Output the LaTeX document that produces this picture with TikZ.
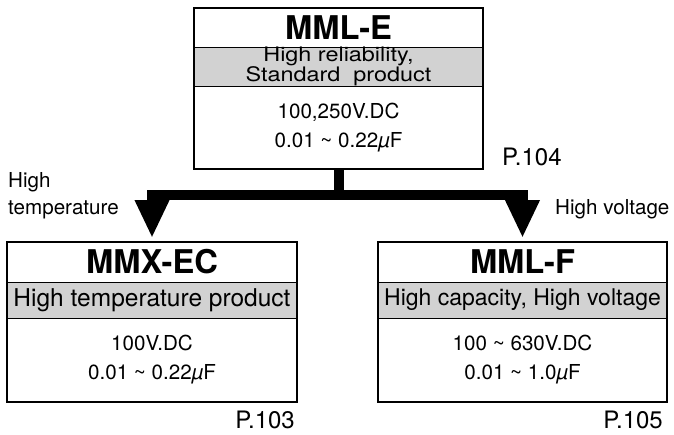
\documentclass[tikz,border=0pt]{standalone}
\usepackage{fontspec}
\setmainfont{TeX Gyre Heros}
\usetikzlibrary{arrows.meta, positioning, fit}
\definecolor{bandgray}{RGB}{210, 210, 210}
\tikzset{
    titlebox/.style={
        rectangle, draw, line width=0.8pt, inner sep=0pt, outer sep=0pt,
        minimum width=289pt, minimum height=39pt,
        font=\fontsize{32.7}{36}\selectfont\bfseries
    },
    bandbox/.style={titlebox, fill=bandgray, minimum height=37pt, align=center,
        font=\fontsize{24.5}{28}\selectfont},
    specbox/.style={titlebox, minimum height=83pt, align=center,
        font=\fontsize{20.6}{29}\selectfont},
    boxframe/.style={rectangle, draw, line width=2pt, inner sep=0pt},
    trunk/.style={line width=10pt},
    branch/.style={line width=10pt, -{Triangle[length=38pt, width=32pt]}, shorten >=4pt},
    sidelabel/.style={font=\fontsize{20.6}{27}\selectfont, inner sep=0pt},
    pagelabel/.style={font=\fontsize{24}{28}\selectfont, inner sep=0pt},
}

\begin{document}
\begin{tikzpicture}[x=1pt, y=-1pt]
    \useasboundingbox (0,0) rectangle (674,434);

    % top series
    \node[titlebox] (e-title) at (338.5, 27.5) {MML-E};
    \node[bandbox, below=0pt of e-title, font=\fontsize{20}{16}\selectfont] (e-band)
        {\scalebox{1.17}[1]{High reliability,}\\\scalebox{1.17}[1]{Standard\ \ product}};
    \node[specbox, below=0pt of e-band] (e-spec)
        {100,250V.DC\\0.01 \textasciitilde{} 0.22\textit{µ}F};
    \node[boxframe, fit=(e-title)(e-spec)] (e-box) {};

    % high temperature series
    \node[titlebox, minimum width=290pt, minimum height=40pt] (ec-title) at (152, 262) {MMX-EC};
    \node[bandbox, minimum width=290pt, minimum height=36pt, below=0pt of ec-title] (ec-band)
        {High temperature product};
    \node[specbox, minimum width=290pt, minimum height=84pt, below=0pt of ec-band] (ec-spec)
        {100V.DC\\0.01 \textasciitilde{} 0.22\textit{µ}F};
    \node[boxframe, fit=(ec-title)(ec-spec)] (ec-box) {};

    % high voltage series
    \node[titlebox, minimum height=40pt] (f-title) at (522.5, 262) {MML-F};
    \node[bandbox, minimum height=36pt, below=0pt of f-title, font=\fontsize{23}{28}\selectfont] (f-band)
        {High capacity, High voltage};
    \node[specbox, minimum height=84pt, below=0pt of f-band] (f-spec)
        {100 \textasciitilde{} 630V.DC\\0.01 \textasciitilde{} 1.0\textit{µ}F};
    \node[boxframe, fit=(f-title)(f-spec)] (f-box) {};

    % connectors
    \coordinate[below=26pt of e-spec.south] (split);
    \draw[trunk] (e-spec.south) -- (split);
    \draw[branch] (split) -| (ec-title.north);
    \draw[branch] (split) -| (f-title.north);

    % labels
    \node[sidelabel, align=left, anchor=west] (lbl-temp) at (8, 196) {High\\temperature};
    \node[sidelabel, anchor=base west] (lbl-volt) at (555, 214) {High voltage};
    \node[pagelabel, anchor=base west] (p104) at (502, 165) {P.104};
    \node[pagelabel, anchor=base east] (p103) at (295, 428) {P.103};
    \node[pagelabel, anchor=base east] (p105) at (663, 428) {P.105};
\end{tikzpicture}
\end{document}
